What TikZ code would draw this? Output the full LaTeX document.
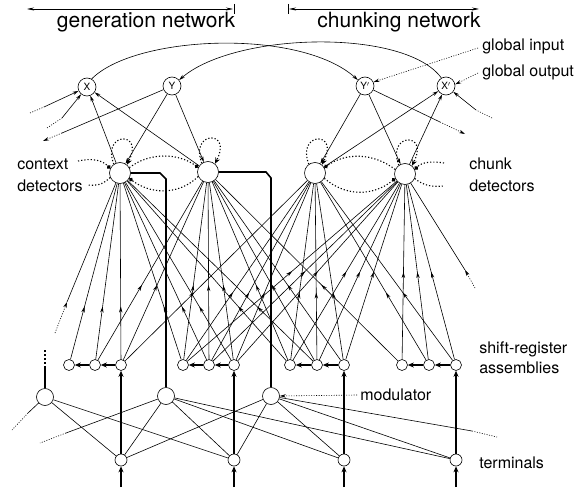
\documentclass[tikz,border=0pt]{standalone}
\usepackage{fontspec}
\setmainfont{TeX Gyre Heros}
\usetikzlibrary{arrows.meta,calc,positioning,decorations.markings}

\tikzset{
  unit/.style={draw,circle,inner sep=0pt,minimum size=#1,line width=0.6pt},
  lbl/.style={anchor=west,inner sep=0pt,font=\fontsize{16}{18}\selectfont},
  hdr/.style={inner sep=0pt,font=\fontsize{21}{23}\selectfont},
  fan/.style={postaction={decorate},decoration={markings,
      mark=at position #1 with {\arrow{Stealth[length=6pt,width=3.4pt]}}}},
  arr/.style={-{Stealth[length=6pt,width=3.4pt]}},
  heavy/.style={line width=1.6pt},
  tharr/.style={line width=1.6pt,-{Stealth[length=6pt,width=5pt]}},
  dotline/.style={line width=1.1pt,dash pattern=on 1.2pt off 2pt},
  thindot/.style={line width=0.6pt,dash pattern=on 1pt off 1.5pt},
  inhib/.style={dotline,-{Circle[length=4pt]}},
  selfloop/.style={dotline,-{Stealth[length=6pt,width=5pt]}}
}

\begin{document}
\begin{tikzpicture}[x=1pt,y=-1pt,line width=0.6pt]
    \useasboundingbox (0,0) rectangle (577,489);
    % headers
    \coordinate (gl) at (27,9);
    \coordinate (gr) at (233,9);
    \coordinate (cl) at (289,9);
    \coordinate (cr) at (479,9);
    \draw[{Stealth[length=7pt,width=3pt]}-{Stealth[length=7pt,width=3pt]}] (gl) -- (gr);
    \draw ($(gr)+(1,-5)$) -- ++(0,10);
    \draw[{Stealth[length=7pt,width=3pt]}-{Stealth[length=7pt,width=3pt]}] (cl) -- (cr);
    \draw ($(cl)+(-1,-5)$) -- ++(0,10);
    \node[hdr] (gen) at (146,22) {generation network};
    \node[hdr] (chu) at (399,22) {chunking network};
    % top units
    \node[unit=18pt] (X) at (87,87) {\fontsize{10}{12}\selectfont X};
    \node[unit=18pt] (Y) at (172,86) {\fontsize{10}{12}\selectfont Y};
    \node[unit=18pt] (Yp) at (365,86) {\fontsize{10}{12}\selectfont Y$'$};
    \node[unit=18pt] (Xp) at (446,86) {\fontsize{10}{12}\selectfont X$'$};
    % detectors
    \node[unit=21pt] (C1) at (120,173) {};
    \node[unit=21pt] (C2) at (208,172) {};
    \node[unit=21pt] (D1) at (315,173) {};
    \node[unit=21pt] (D2) at (405,174) {};
    % shift-register assemblies
    \node[unit=11pt] (S11) at (69,365) {};
    \node[unit=11pt] (S12) at (95,365) {};
    \node[unit=11pt] (S13) at (121,365) {};
    \node[unit=11pt] (S21) at (183,365) {};
    \node[unit=11pt] (S22) at (209,365) {};
    \node[unit=11pt] (S23) at (234,365) {};
    \node[unit=11pt] (S31) at (290,365) {};
    \node[unit=11pt] (S32) at (317,365) {};
    \node[unit=11pt] (S33) at (344,365) {};
    \node[unit=11pt] (S41) at (402,365) {};
    \node[unit=11pt] (S42) at (429,365) {};
    \node[unit=11pt] (S43) at (456,365) {};
    % modulators
    \node[unit=17pt] (M1) at (45,397) {};
    \node[unit=17pt] (M2) at (166,396) {};
    \node[unit=17pt] (M3) at (271,396) {};
    % terminals
    \node[unit=12pt] (T1) at (121,460) {};
    \node[unit=12pt] (T2) at (234,460) {};
    \node[unit=12pt] (T3) at (344,460) {};
    \node[unit=12pt] (T4) at (456,460) {};
    % labels
    \node[lbl] (gin) at (482,46) {global input};
    \node[lbl] (gout) at (482,72) {global output};
    \node[lbl] (ctx) at (17,164) {context};
    \node[lbl] (ctxd) at (17,186) {detectors};
    \node[lbl] (chk) at (469,164) {chunk};
    \node[lbl] (chkd) at (469,186) {detectors};
    \node[lbl] (srl) at (479,349) {shift-register};
    \node[lbl] (sra) at (479,368) {assemblies};
    \node[lbl] (modl) at (360,395) {modulator};
    \node[lbl] (term) at (479,463) {terminals};

    % crossing arcs between the two networks
    \draw[arr] (X.60) .. controls (135,35) and (300,28) .. (Yp.140);
    \draw[arr] (Xp.120) .. controls (405,28) and (235,32) .. (Y.40);
    \draw[thindot,arr] (gin.west) ++(-4,2) -- (Yp.25);
    \draw[thindot,arr] (gout.west) ++(-4,1) -- (Xp.10);

    % top connections
    \draw[arr] (C1) -- (X);
    \draw[arr] (C2) -- (X);
    \draw[arr] (Y) -- (C1);
    \draw[arr] (Y) -- (C2);
    \draw[arr] (D1) -- (Xp);
    \draw[arr] (D2) -- (Xp);
    \draw[arr] (Yp) -- (D1);
    \draw[arr] (Yp) -- (D2);
    \coordinate (xa) at (30,113);
    \coordinate (xab) at (44,107);
    \coordinate (xb) at (47,128);
    \coordinate (xbb) at (62,118);
    \draw[thindot] (xa) -- (xab);
    \draw[arr] (xab) -- (X);
    \draw[thindot] (xb) -- (xbb);
    \draw[arr] (xbb) -- (X);
    \coordinate (ya) at (62,133);
    \coordinate (yae) at (43,141);
    \draw (Y) -- (ya);
    \draw[thindot,arr] (ya) -- (yae);
    \coordinate (xpa) at (492,118);
    \coordinate (xpab) at (476,110);
    \draw[thindot] (xpa) -- (xpab);
    \draw[arr] (xpab) -- (Xp);
    \coordinate (ypa) at (440,122);
    \coordinate (ypae) at (465,134);
    \draw (Yp) -- (ypa);
    \draw[thindot,arr] (ypa) -- (ypae);

    % self loops
    \draw[selfloop] (C1.125) .. controls (101,132) and (145,130) .. (C1.50);
    \draw[selfloop] (C2.125) .. controls (189,131) and (233,129) .. (C2.50);
    \draw[selfloop] (D1.125) .. controls (296,132) and (340,130) .. (D1.50);
    \draw[selfloop] (D2.125) .. controls (386,133) and (430,131) .. (D2.50);
    % lateral inhibition
    \draw[inhib] (78,161) .. controls (92,158) and (102,160) .. (C1.155);
    \draw[dotline] (C1.205) .. controls (102,185) and (96,186) .. (88,185);
    \draw[inhib] (C1.30) .. controls (150,152) and (178,153) .. (C2.155);
    \draw[inhib] (C2.205) .. controls (178,196) and (150,194) .. (C1.-30);
    \draw[inhib] (D2.155) .. controls (372,152) and (345,153) .. (D1.30);
    \draw[inhib] (D1.-30) .. controls (345,196) and (372,197) .. (D2.205);
    \draw[inhib] (444,163) .. controls (432,161) and (422,162) .. (D2.25);
    \draw[dotline] (D2.-25) .. controls (424,186) and (432,187) .. (444,186);

    % assemblies to detectors
    \foreach \s in {S11,S12,S13,S21,S22,S23,S31,S32}
        \draw[fan=0.3] (\s) -- (C1);
    \foreach \s in {S12,S13,S21,S22,S23,S31,S32,S33,S41}
        \draw[fan=0.42] (\s) -- (C2);
    \foreach \s in {S13,S21,S22,S23,S31,S32,S33,S42,S43}
        \draw[fan=0.38] (\s) -- (D1);
    \foreach \s in {S21,S22,S23,S31,S32,S33,S41,S42,S43}
        \draw[fan=0.5] (\s) -- (D2);
    \coordinate (ca) at (55,333);
    \coordinate (cab) at (67,302);
    \draw[thindot,arr] (ca) -- (cab);
    \draw (cab) -- (C1);
    \coordinate (da) at (475,288);
    \coordinate (dab) at (465,270);
    \draw[thindot,arr] (da) -- (dab);
    \draw (dab) -- (D2);

    % detectors to modulators
    \draw[heavy] (C1.east) -- ($(M2|-C1)+(-6,0)$) -- ($(M2|-C1)+(0,6)$) -- (M2.north);
    \draw[heavy] (C2.east) -- ($(M3|-C2)+(-5,0)$) -- ($(M3|-C2)+(0,6)$) -- (M3.north);
    \coordinate (mu) at (45,368);
    \coordinate (mue) at (45,350);
    \draw[heavy] (M1.north) -- (mu);
    \draw[heavy,dash pattern=on 2pt off 2pt] (mu) -- (mue);
    \draw[thindot,arr] (modl.west) ++(-3,0) -- (M3.east);

    % modulators to terminals
    \draw (M1) -- (T1);
    \draw (M1) -- (T2);
    \draw (M2) -- (T1);
    \draw (M2) -- (T2);
    \draw (M2) -- (T3);
    \draw (M2) -- (T4);
    \draw (M3) -- (T1);
    \draw (M3) -- (T2);
    \draw (M3) -- (T3);
    \draw (M3) -- (T4);
    \coordinate (ma) at (28,413);
    \coordinate (mae) at (12,430);
    \draw (M1) -- (ma);
    \draw[thindot] (ma) -- (mae);
    \coordinate (mb) at (66,433);
    \coordinate (mbe) at (40,443);
    \draw (M2) -- (mb);
    \draw[thindot] (mb) -- (mbe);
    \coordinate (mc) at (472,431);
    \coordinate (mce) at (497,437);
    \draw (M3) -- (mc);
    \draw[thindot] (mc) -- (mce);

    % terminals into shift registers
    \foreach \t/\s in {T1/S13,T2/S23,T3/S33,T4/S43}
        \draw[tharr] (\t) -- (\s);
    \foreach \t in {T1,T2,T3,T4}
        \draw[tharr] ($(\t)+(0,27)$) -- (\t);
    \foreach \a/\b in {S13/S12,S12/S11,S23/S22,S22/S21,S33/S32,S32/S31,S43/S42,S42/S41}
        \draw[tharr] (\a) -- (\b);
\end{tikzpicture}
\end{document}
